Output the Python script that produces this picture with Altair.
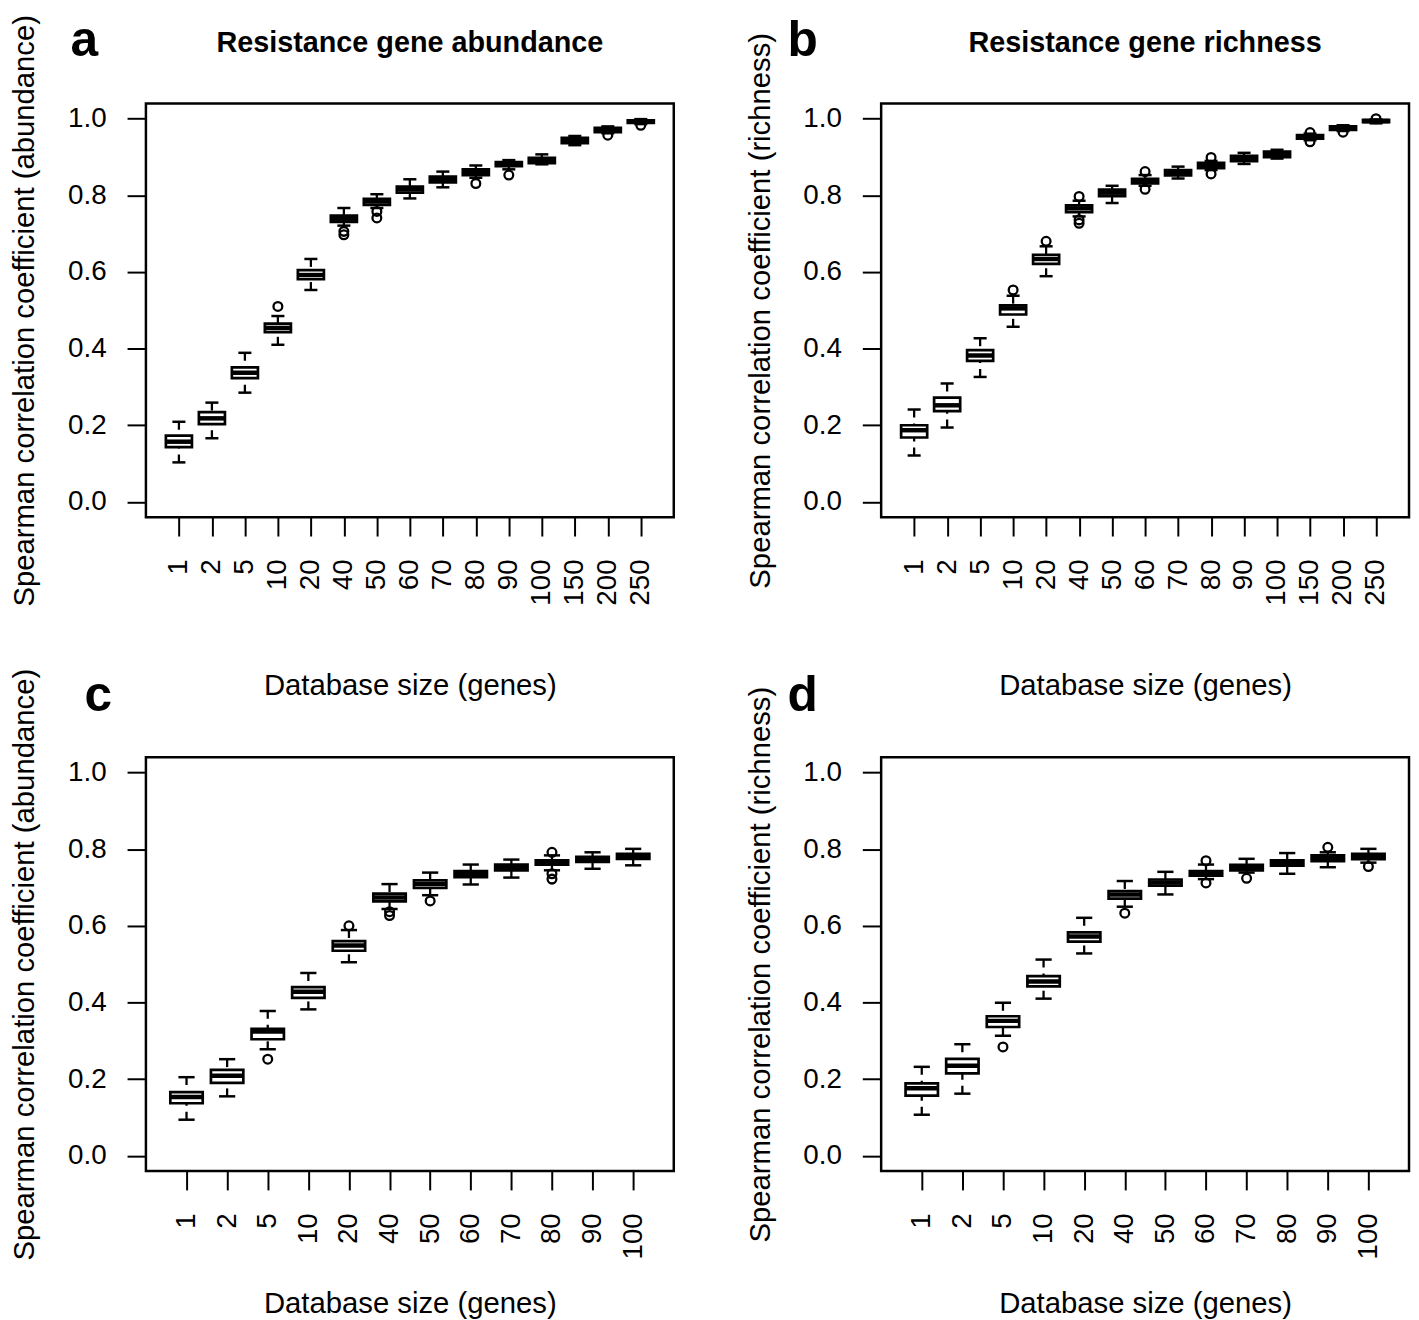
import altair as alt
import pandas as pd

FONT = "Liberation Sans"
W = 532
H = 417

cats_ab = ["1", "2", "5", "10", "20", "40", "50", "60", "70", "80", "90", "100", "150", "200", "250"]
cats_cd = ["1", "2", "5", "10", "20", "40", "50", "60", "70", "80", "90", "100"]

# Panel a: resistance gene abundance
a_lw = [0.103, 0.166, 0.285, 0.410, 0.553, 0.721, 0.767, 0.792, 0.821, 0.846, 0.868, 0.881, 0.931, 0.962, 0.986]
a_q1 = [0.143, 0.203, 0.323, 0.443, 0.581, 0.731, 0.775, 0.807, 0.834, 0.853, 0.876, 0.884, 0.936, 0.965, 0.989]
a_med = [0.157, 0.218, 0.337, 0.454, 0.592, 0.739, 0.784, 0.816, 0.842, 0.861, 0.882, 0.892, 0.943, 0.971, 0.993]
a_q3 = [0.173, 0.234, 0.351, 0.465, 0.605, 0.747, 0.791, 0.823, 0.849, 0.868, 0.887, 0.898, 0.950, 0.976, 0.996]
a_uw = [0.209, 0.259, 0.389, 0.485, 0.634, 0.767, 0.803, 0.842, 0.862, 0.878, 0.892, 0.907, 0.955, 0.980, 0.999]
a_out = [[], [], [], [0.510], [], [0.706, 0.697], [0.758, 0.741], [], [], [0.831], [0.853], [], [], [0.957], [0.983]]

# Panel b: resistance gene richness
b_lw = [0.121, 0.194, 0.326, 0.457, 0.589, 0.745, 0.780, 0.825, 0.844, 0.866, 0.882, 0.896, 0.944, 0.968, 0.988]
b_q1 = [0.168, 0.237, 0.368, 0.489, 0.621, 0.756, 0.798, 0.831, 0.852, 0.871, 0.889, 0.900, 0.948, 0.971, 0.991]
b_med = [0.187, 0.252, 0.382, 0.505, 0.634, 0.766, 0.807, 0.838, 0.860, 0.879, 0.896, 0.907, 0.953, 0.976, 0.994]
b_q3 = [0.200, 0.272, 0.396, 0.513, 0.645, 0.774, 0.815, 0.843, 0.866, 0.885, 0.903, 0.914, 0.957, 0.980, 0.997]
b_uw = [0.241, 0.309, 0.427, 0.538, 0.667, 0.786, 0.825, 0.853, 0.875, 0.890, 0.911, 0.919, 0.961, 0.983, 0.998]
b_out = [[], [], [], [0.553], [0.680], [0.797, 0.736, 0.727], [], [0.862, 0.816], [], [0.899, 0.856], [], [], [0.964, 0.940], [0.965], [1.000]]

# Panel c: abundance, smaller databases
c_lw = [0.094, 0.155, 0.278, 0.382, 0.505, 0.644, 0.680, 0.708, 0.726, 0.745, 0.749, 0.758]
c_q1 = [0.137, 0.190, 0.304, 0.412, 0.535, 0.664, 0.699, 0.727, 0.745, 0.760, 0.767, 0.775]
c_med = [0.153, 0.209, 0.324, 0.428, 0.549, 0.674, 0.710, 0.735, 0.753, 0.765, 0.773, 0.781]
c_q3 = [0.166, 0.224, 0.331, 0.440, 0.560, 0.684, 0.719, 0.743, 0.760, 0.771, 0.780, 0.788]
c_uw = [0.205, 0.252, 0.378, 0.477, 0.589, 0.709, 0.739, 0.760, 0.773, 0.784, 0.792, 0.801]
c_out = [[], [], [0.252], [], [0.600], [0.637, 0.627], [0.665], [], [], [0.792, 0.736, 0.722], [], []]

# Panel d: richness, smaller databases
d_lw = [0.107, 0.162, 0.313, 0.410, 0.528, 0.650, 0.682, 0.722, 0.739, 0.736, 0.753, 0.765]
d_q1 = [0.157, 0.215, 0.336, 0.442, 0.559, 0.671, 0.705, 0.731, 0.745, 0.757, 0.769, 0.774]
d_med = [0.176, 0.235, 0.352, 0.455, 0.572, 0.682, 0.713, 0.738, 0.753, 0.765, 0.777, 0.781]
d_q3 = [0.189, 0.253, 0.364, 0.469, 0.583, 0.691, 0.721, 0.743, 0.759, 0.771, 0.784, 0.788]
d_uw = [0.232, 0.291, 0.399, 0.512, 0.621, 0.717, 0.741, 0.760, 0.775, 0.790, 0.792, 0.801]
d_out = [[], [], [0.284], [], [], [0.633], [], [0.770, 0.712], [0.724], [], [0.805], [0.755]]

y_ticks = [0.0, 0.2, 0.4, 0.6, 0.8, 1.0]


def panel(cats, lw, q1, med, q3, uw, outs, ylab, letter, lx, ly, title, x_title_y, pad):
    step = W / (len(cats) - 1 + 2 * pad)
    box_w = 0.8 * step
    cap_w = 0.4 * step
    df = pd.DataFrame({"cat": cats, "lw": lw, "q1": q1, "med": med, "q3": q3, "uw": uw})
    rows = [(c, v) for c, vs in zip(cats, outs) for v in vs]
    odf = pd.DataFrame(rows, columns=["cat", "val"])

    xenc = alt.X(
        "cat:N",
        sort=cats,
        scale=alt.Scale(type="point", padding=pad, domain=cats),
        title="Database size (genes)",
        axis=alt.Axis(labelAngle=270, labelPadding=23, labelOverlap=False,
                      titleY=x_title_y, titleBaseline="alphabetic"),
    )
    yscale = alt.Scale(domain=[-0.04, 1.04], nice=False, zero=False)
    yaxis = alt.Axis(values=y_ticks, format=".1f", labelPadding=21,
                     titleX=-113, titleBaseline="alphabetic")

    def Y(field):
        return alt.Y(field, scale=yscale, axis=yaxis, title=ylab)

    base = alt.Chart(df)
    up = base.mark_rule(color="black", strokeWidth=2.3, strokeDash=[8, 6]).encode(
        x=xenc, y=Y("uw:Q"), y2="q3:Q")
    lo = base.mark_rule(color="black", strokeWidth=2.3, strokeDash=[8, 6]).encode(
        x=xenc, y=Y("lw:Q"), y2="q1:Q")
    cap_u = base.mark_tick(color="black", size=cap_w, thickness=2.5, opacity=1).encode(
        x=xenc, y=Y("uw:Q"))
    cap_l = base.mark_tick(color="black", size=cap_w, thickness=2.5, opacity=1).encode(
        x=xenc, y=Y("lw:Q"))
    box = base.mark_bar(size=box_w, fill="white", stroke="black", strokeWidth=2.7).encode(
        x=xenc, y=Y("q1:Q"), y2="q3:Q")
    mid = base.mark_tick(color="black", size=box_w, thickness=4.5, opacity=1).encode(
        x=xenc, y=Y("med:Q"))
    pts = alt.Chart(odf).mark_point(shape="circle", filled=False, color="black",
                                    size=78, strokeWidth=2.3, opacity=1).encode(
        x=xenc, y=Y("val:Q"))
    layers = [up, lo, cap_u, cap_l, box, mid, pts]
    lt = alt.Chart(pd.DataFrame({"t": [letter]})).mark_text(
        font=FONT, fontSize=50, fontWeight="bold", align="center", baseline="alphabetic",
        color="black").encode(x=alt.value(lx), y=alt.value(ly), text="t:N")
    layers.append(lt)
    if title:
        tt = alt.Chart(pd.DataFrame({"t": [title]})).mark_text(
            font=FONT, fontSize=29, fontWeight="bold", align="center", baseline="alphabetic",
            color="black").encode(x=alt.value(W / 2), y=alt.value(-52), text="t:N")
        layers.append(tt)
    return alt.layer(*layers).properties(width=W, height=H)


ylab_ab = "Spearman correlation coefficient (abundance)"
ylab_ri = "Spearman correlation coefficient (richness)"

pa = panel(cats_ab, a_lw, a_q1, a_med, a_q3, a_uw, a_out, ylab_ab, "a", -62, -48,
           "Resistance gene abundance", 179, 1.1)
pb = panel(cats_ab, b_lw, b_q1, b_med, b_q3, b_uw, b_out, ylab_ri, "b", -79, -48,
           "Resistance gene richness", 179, 1.1)
pc = panel(cats_cd, c_lw, c_q1, c_med, c_q3, c_uw, c_out, ylab_ab, "c", -48, -47,
           None, 143, 1.02)
pd_ = panel(cats_cd, d_lw, d_q1, d_med, d_q3, d_uw, d_out, ylab_ri, "d", -79, -47,
            None, 143, 1.02)

chart = alt.concat(
    pa, pb, pc, pd_, columns=2, spacing={"row": 242, "column": 209}, bounds="flush"
).properties(
    padding=0, background="white"
).configure_view(
    stroke="black", strokeWidth=2.5
).configure_axis(
    domain=False, grid=False, tickColor="black", tickWidth=2, tickSize=19,
    labelFont=FONT, labelFontSize=28, labelColor="black",
    titleFont=FONT, titleFontSize=29.5, titleFontWeight="normal", titleColor="black"
)

chart.save("out.html", embed_options={"renderer": "svg", "actions": False})
